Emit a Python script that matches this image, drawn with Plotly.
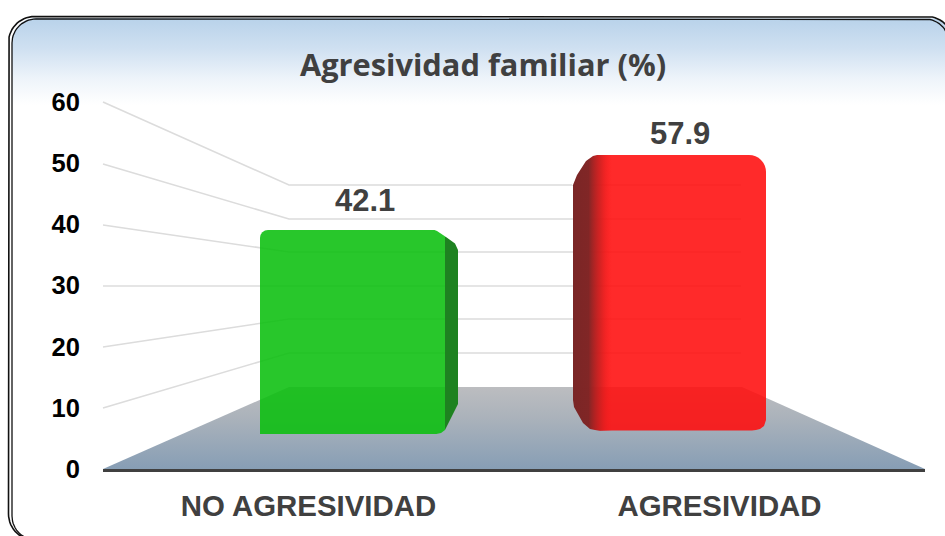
import numpy as np
import plotly.graph_objects as go

# ---- data ----
categories = ["NO AGRESIVIDAD", "AGRESIVIDAD"]
values = [42.1, 57.9]
tick_values = [0, 10, 20, 30, 40, 50, 60]
title_text = "Agresividad familiar (%)"

W, H = 945, 536
DARK = "#404040"
FONT = "Liberation Sans"

fig = go.Figure()


def frame_path(x0, y0, x1, y1, r):
    """open outline: bottom-left arc, top-left arc, top-right arc"""
    t = np.linspace(0, np.pi / 2, 16)
    xs = list(x0 + r - r * np.cos(t))[::-1]
    ys = list(y1 - r + r * np.sin(t))[::-1]
    xs += list(x0 + r - r * np.cos(t)) + list(x1 - r + r * np.sin(t))
    ys += list(y0 + r - r * np.sin(t)) + list(y0 + r - r * np.cos(t))
    return xs, ys


def add_decor(x, y, **kw):
    fig.add_trace(go.Scatter(x=x, y=y, hoverinfo="skip", showlegend=False, xaxis="x", yaxis="y", **kw))


# --- decoration layer on a pixel axis (xaxis / yaxis) ---
px, py = frame_path(12, 18, W + 8, H + 5, 24)
add_decor(px + [W + 8, px[0]], py + [H + 5, py[0]], mode="lines", line=dict(width=0), fill="toself",
          fillgradient=dict(type="vertical", start=18, stop=105,
                            colorscale=[[0, "#b8d2ea"], [0.35, "#cfe0f1"], [0.7, "#eef4fa"], [1, "#ffffff"]]))

# wall grid lines: front edge on the left, then along the back wall
front_px = {0: 469, 10: 408, 20: 347, 30: 286, 40: 225, 50: 164, 60: 102}
back_px = {0: 387, 10: 353, 20: 319, 30: 286, 40: 252, 50: 219, 60: 185}
for t in tick_values[1:]:
    add_decor([103, 289, 741], [front_px[t], back_px[t], back_px[t]], mode="lines",
              line=dict(color="#dcdcdc", width=1.6))

# floor
FLOOR_SCALE = [[0, "#bcbdc0"], [0.35, "#acb3bb"], [1, "#879eb5"]]
add_decor([103, 289, 742, 925, 103], [469, 387, 387, 469, 469], mode="lines", line=dict(width=0), fill="toself",
          fillgradient=dict(type="vertical", start=387, stop=469, colorscale=FLOOR_SCALE))

# frame: double line
fx, fy = frame_path(8.5, 16.5, W + 8, H + 4, 26)
add_decor(fx, fy, mode="lines", line=dict(color="#111111", width=1.6))
gx, gy = frame_path(12, 19, W + 4, H + 4, 24)
add_decor(gx, gy, mode="lines", line=dict(color="#111111", width=1.3))

# --- bars, each on its own value scale (perspective of the front plane) ---
bar_center_px = (359.0, 669.5)
per_cat = bar_center_px[1] - bar_center_px[0]
widths = [198 / per_cat, 193 / per_cat]
zero_px = [434.0, 430.5]
scale_px = [(zero_px[0] - 230) / values[0], (zero_px[1] - 155) / values[1]]
colors = ["rgba(10,191,14,0.88)", "rgba(255,12,12,0.88)"]
radii = [8, 17]
yaxes = ["y3", "y4"]

for i, (v, c, ya) in enumerate(zip(values, colors, yaxes)):
    fig.add_trace(go.Bar(
        x=[i], y=[v], width=[widths[i]], marker=dict(color=c, line=dict(width=0), cornerradius=radii[i]),
        xaxis="x3", yaxis=ya, showlegend=False, name=categories[i], hoverinfo="skip"))


def bx(i, pixel_x):
    """bar x-axis position of a page pixel column"""
    return i + (pixel_x - bar_center_px[i]) / per_cat


def by(i, pixel_y):
    """value-axis position of a page pixel row, on the scale of bar i"""
    return (zero_px[i] - pixel_y) / scale_px[i]


def add_on_bar(i, pts, **kw):
    fig.add_trace(go.Scatter(
        x=[bx(i, p[0]) for p in pts], y=[by(i, p[1]) for p in pts], mode="lines", line=dict(width=0),
        fill="toself", hoverinfo="skip", showlegend=False, xaxis="x3", yaxis=yaxes[i], **kw))


def floor_mask(i):
    return dict(type="vertical", start=by(i, 387), stop=by(i, 469), colorscale=FLOOR_SCALE)


# green side face (right) and the corners it cuts from the box
add_on_bar(0, [(445, 237), (458, 237), (458, 434), (445, 434)], fillcolor="rgba(30,125,32,0.93)")
add_on_bar(0, [(432, 229), (437, 231), (446, 237), (455, 243.5), (458, 250), (459, 250), (459, 229)],
           fillcolor="white")
add_on_bar(0, [(434, 434.5), (441, 433), (445, 430), (458, 404), (459, 404), (459, 434.5)],
           fillgradient=floor_mask(0))

# red side face (left), fading into the front
add_on_bar(1, [(573, 155), (612, 155), (612, 431), (573, 431)],
           fillgradient=dict(type="horizontal", start=bx(1, 573), stop=bx(1, 612),
                             colorscale=[[0, "rgba(118,38,38,0.97)"], [0.4, "rgba(122,38,38,0.95)"],
                                         [0.72, "rgba(195,30,30,0.6)"], [1, "rgba(255,20,20,0)"]]))
add_on_bar(1, [(572, 154), (601, 154), (593, 156), (586, 161), (577, 175), (573, 185), (572, 185)],
           fillcolor="white")
add_on_bar(1, [(572, 400), (573, 400), (574, 407), (583, 423), (590, 429), (600, 431), (572, 431)],
           fillgradient=floor_mask(1))
# bottom-right rounding of the red box
add_on_bar(1, [(752, 431), (760, 429), (764, 426), (766, 420), (767, 420), (767, 431)],
           fillgradient=floor_mask(1))

# value labels
LABEL_FONT = dict(family=FONT, size=31, color=DARK, weight="bold")
fig.add_annotation(x=0, y=values[0], xref="x3", yref="y3", xshift=6, yshift=30,
                   text=str(values[0]), showarrow=False, font=LABEL_FONT)
fig.add_annotation(x=1, y=values[1], xref="x3", yref="y4", xshift=10.5, yshift=22,
                   text=str(values[1]), showarrow=False, font=LABEL_FONT)


# --- layout ---
def yrange(zero, s):
    return [(zero - H) / s, zero / s]


hidden = dict(visible=False, showgrid=False, zeroline=False)
axis_scale = (469 - 102) / 60

fig.update_layout(
    width=W, height=H, margin=dict(l=0, r=0, t=0, b=0, autoexpand=False),
    paper_bgcolor="white", plot_bgcolor="rgba(0,0,0,0)", showlegend=False, barmode="overlay",
    title=dict(text=title_text, x=483 / W, xanchor="center", y=1 - 65 / H, yanchor="middle",
               font=dict(family="Open Sans", size=30.8, color=DARK, weight="bold")),
    xaxis=dict(domain=[0, 1], range=[0, W], **hidden),
    yaxis=dict(domain=[0, 1], range=[H, 0], **hidden),
    # visible value / category axes
    xaxis2=dict(domain=[103 / W, 925 / W], range=[-0.5, 1.5], anchor="y2", tickmode="array",
                tickvals=[0, 1], ticktext=categories, showgrid=False, zeroline=False,
                showline=True, linecolor=DARK, linewidth=3, ticks="outside", ticklen=9,
                tickcolor="rgba(0,0,0,0)",
                tickfont=dict(family=FONT, size=29.4, color=DARK, weight="bold")),
    yaxis2=dict(domain=[(H - 469) / H, 1], range=[0, 469 / axis_scale], anchor="x2", tickmode="array",
                tickvals=tick_values, showgrid=False, zeroline=False, showline=False,
                ticks="outside", ticklen=17, tickcolor="rgba(0,0,0,0)",
                tickfont=dict(family=FONT, size=25.5, color="black", weight="bold")),
    xaxis3=dict(domain=[0, 1], range=[-bar_center_px[0] / per_cat, (W - bar_center_px[0]) / per_cat],
                anchor="y3", **hidden),
    yaxis3=dict(domain=[0, 1], range=yrange(zero_px[0], scale_px[0]), anchor="x3", **hidden),
    yaxis4=dict(domain=[0, 1], range=yrange(zero_px[1], scale_px[1]), anchor="x3", overlaying="y3", **hidden),
)
# keeps the visible axes in the figure
fig.add_trace(go.Scatter(x=[0, 1], y=[0, 60], mode="markers", marker=dict(opacity=0), xaxis="x2", yaxis="y2",
                         hoverinfo="skip", showlegend=False))

fig.write_html("out.html", config=dict(displayModeBar=False),
               post_script="document.body.style.margin='0';document.documentElement.style.overflow='hidden';")
